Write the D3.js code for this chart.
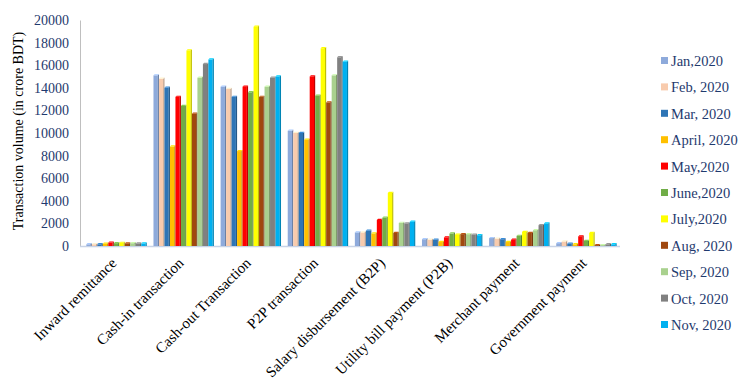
<!DOCTYPE html>
<meta charset="utf-8">
<script type="text/javascript" src="https://cdn.jsdelivr.net/npm/d3@7/dist/d3.min.js" charset="utf-8"></script>
<style>
body { margin: 0; background: #fff; }
text { font-family: "Liberation Serif", "Times New Roman", serif; }
.tick text { fill: #1f3a6e; font-size: 14px; }
.xlab { fill: #000; font-size: 15px; }
.legend text { fill: #1f3a6e; font-size: 14.5px; }
</style>
<body>
<script>

// categories on the x axis
var categories = ["Inward remittance", "Cash-in transaction", "Cash-out Transaction",
  "P2P transaction", "Salary disbursement (B2P)", "Utility bill payment (P2B)",
  "Merchant payment", "Government payment"];

// one series per month
var months = ["Jan,2020", "Feb, 2020", "Mar, 2020", "April, 2020", "May,2020", "June,2020",
  "July,2020", "Aug, 2020", "Sep, 2020", "Oct, 2020", "Nov, 2020"];

var colours = ["#8eaadb", "#f8cbad", "#2e75b6", "#ffc000", "#ff0000", "#70ad47",
  "#ffff00", "#a0480f", "#a9d18e", "#808080", "#00b0f0"];

// values per month, in category order
var jan = [150, 15100, 14100, 10200, 1200, 600, 700, 250];
var feb = [150, 14800, 13900, 10000, 1200, 550, 650, 400];
var mar = [150, 14000, 13200, 10000, 1350, 550, 600, 200];
var apr = [200, 8800, 8400, 9400, 1100, 350, 350, 150];
var may = [300, 13200, 14100, 15000, 2300, 750, 550, 850];
var jun = [250, 12400, 13600, 13300, 2500, 1100, 900, 450];
var jul = [280, 17300, 19400, 17500, 4700, 1000, 1250, 1150];
var aug = [230, 11700, 13200, 12700, 1150, 1050, 1150, 80];
var sep = [250, 14900, 14100, 15100, 2050, 1050, 1400, 80];
var oct = [230, 16100, 14900, 16700, 2000, 1000, 1850, 150];
var nov = [220, 16500, 15000, 16300, 2150, 950, 2000, 150];

var yTicks = [0, 2000, 4000, 6000, 8000, 10000, 12000, 14000, 16000, 18000, 20000];

var series = [jan, feb, mar, apr, may, jun, jul, aug, sep, oct, nov];

var width = 750,
    height = 384;

var svg = d3.select("body").append("svg")
    .attr("width", width)
    .attr("height", height);

var x0 = d3.scaleBand()
    .domain(categories)
    .range([83, 620])
    .paddingInner(0.1)
    .paddingOuter(0.05);

var x1 = d3.scaleBand()
    .domain(d3.range(months.length))
    .range([0, x0.bandwidth()]);

var y = d3.scaleLinear()
    .domain([0, 20000])
    .range([246, 20]);

// flatten into one record per bar
var bars = [];
categories.forEach(function(c, ci) {
  series.forEach(function(s, si) {
    bars.push({cat: c, m: si, v: s[ci]});
  });
});

// y axis
var yAxis = svg.append("g")
    .attr("transform", "translate(80,0)")
    .call(d3.axisLeft(y).tickValues(yTicks).tickSize(0).tickPadding(11).tickFormat(d3.format("d")));
yAxis.select(".domain").attr("stroke", "#bfbfbf");

// baseline
svg.append("line")
    .attr("x1", 80).attr("x2", 620)
    .attr("y1", y(0) + 0.5).attr("y2", y(0) + 0.5)
    .attr("stroke", "#c8d3e6")
    .attr("stroke-width", 1.5);

// bars with a small 3d look: front face, darker side, lighter top
var bw = x1.bandwidth();
var side = 1.2;

var g = svg.append("g").selectAll("g")
    .data(bars)
  .enter().append("g")
    .attr("transform", function(d) { return "translate(" + (x0(d.cat) + x1(d.m)) + ",0)"; });

g.append("rect")
    .attr("x", 0)
    .attr("y", function(d) { return y(d.v); })
    .attr("width", bw - side)
    .attr("height", function(d) { return y(0) - y(d.v); })
    .attr("fill", function(d) { return colours[d.m]; });

g.append("path")
    .attr("d", function(d) {
      var t = y(d.v), b = y(0), l = bw - side;
      return "M" + l + "," + t + "L" + bw + "," + (t - side) + "L" + bw + "," + b + "L" + l + "," + b + "Z";
    })
    .attr("fill", function(d) { return d3.color(colours[d.m]).darker(0.8); });

g.append("path")
    .attr("d", function(d) {
      var t = y(d.v), l = bw - side;
      return "M0," + t + "L" + side + "," + (t - side) + "L" + bw + "," + (t - side) + "L" + l + "," + t + "Z";
    })
    .attr("fill", function(d) { return d3.color(colours[d.m]).brighter(0.5); });

// category labels, slanted
svg.append("g").selectAll("text")
    .data(categories)
  .enter().append("text")
    .attr("class", "xlab")
    .attr("text-anchor", "end")
    .attr("transform", function(d) {
      return "translate(" + (x0(d) + x0.bandwidth() / 2 + 1) + ",264) rotate(-45)";
    })
    .text(function(d) { return d; });

// y axis title
svg.append("text")
    .attr("transform", "translate(23,131) rotate(-90)")
    .attr("text-anchor", "middle")
    .style("font-size", "14px")
    .attr("fill", "#000")
    .text("Transaction volume (in crore BDT)");

// legend
var legend = svg.append("g")
    .attr("class", "legend")
    .selectAll("g")
    .data(months)
  .enter().append("g")
    .attr("transform", function(d, i) { return "translate(661," + (61 + i * 26.4) + ")"; });

legend.append("rect")
    .attr("x", 0).attr("y", -4)
    .attr("width", 7).attr("height", 7)
    .attr("fill", function(d, i) { return colours[i]; });

legend.append("text")
    .attr("x", 10)
    .attr("dy", "0.35em")
    .text(function(d) { return d; });

</script>
</body>
</html>
